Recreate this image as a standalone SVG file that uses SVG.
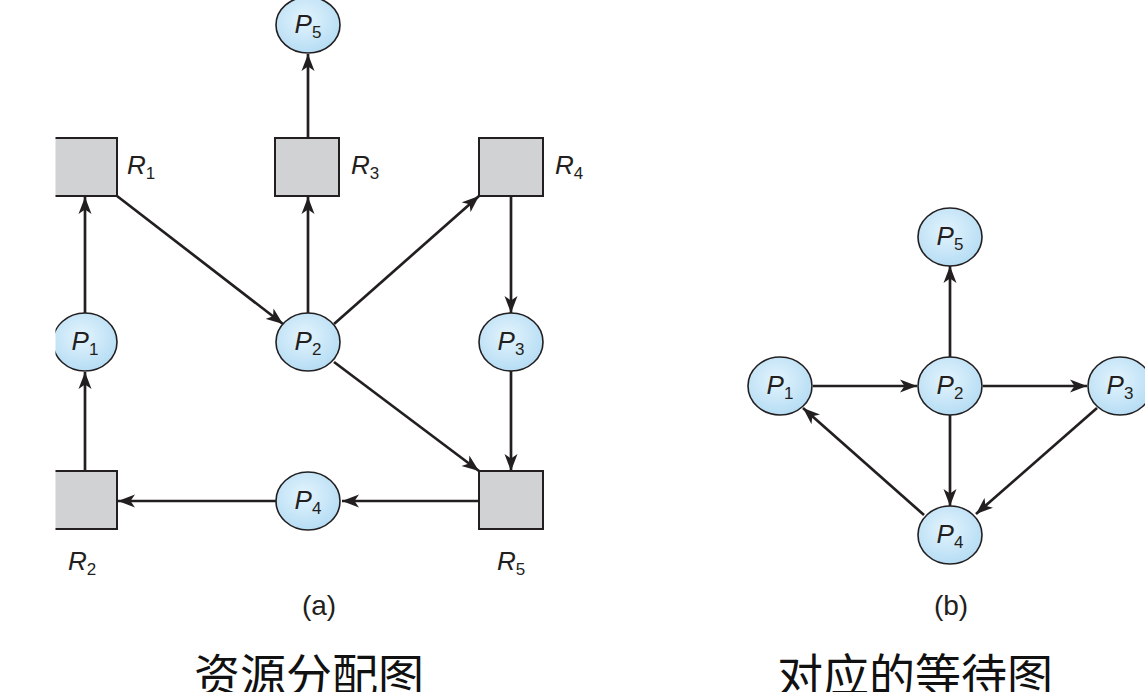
<svg xmlns="http://www.w3.org/2000/svg" width="1145" height="692" viewBox="0 0 1145 692">
<defs>
<radialGradient id="pg" cx="0.45" cy="0.4" r="0.6">
<stop offset="0" stop-color="#e4f4fd"/>
<stop offset="1" stop-color="#b6ddf4"/>
</radialGradient>
<clipPath id="crop"><rect x="55.5" y="0" width="1100" height="692"/></clipPath>
<marker id="ah" markerUnits="userSpaceOnUse" markerWidth="18" markerHeight="14" refX="17" refY="7" orient="auto">
<path d="M0,0.5 L17,7 L0,13.5 L4.5,7 z" fill="#231f20"/>
</marker>
<style>
.proc{fill:url(#pg);stroke:#231f20;stroke-width:1.6}
.res{fill:#d1d2d4;stroke:#231f20;stroke-width:2}
.e{stroke:#231f20;stroke-width:2.7;fill:none;marker-end:url(#ah)}
.lab{font-family:"Liberation Sans",Arial,sans-serif;fill:#231f20}
.it{font-style:italic;font-size:26px}
.sub{font-style:normal;font-size:17px}
.cap{font-family:"Liberation Sans",Arial,sans-serif;font-size:28px;fill:#231f20;text-anchor:middle}
.cjk{font-family:"Noto Sans CJK SC","Noto Sans",sans-serif;font-size:46px;fill:#111;text-anchor:middle}
</style>
</defs>
<rect width="1145" height="692" fill="#ffffff"/>

<g id="connectors">
<line class="e" x1="308" y1="138" x2="308" y2="54"/>
<line class="e" x1="308" y1="313" x2="308" y2="197"/>
<line class="e" x1="85" y1="313" x2="85" y2="197"/>
<line class="e" x1="85" y1="471" x2="85" y2="372"/>
<line class="e" x1="117" y1="196" x2="283" y2="324"/>
<line class="e" x1="334" y1="324" x2="479" y2="196"/>
<line class="e" x1="511" y1="196" x2="511" y2="313"/>
<line class="e" x1="511" y1="371" x2="511" y2="471"/>
<line class="e" x1="334" y1="362" x2="479" y2="471"/>
<line class="e" x1="479" y1="501" x2="342" y2="501"/>
<line class="e" x1="276" y1="501" x2="118" y2="501"/>

<line class="e" x1="813" y1="386" x2="917" y2="386"/>
<line class="e" x1="983" y1="386" x2="1087" y2="386"/>
<line class="e" x1="950" y1="357" x2="950" y2="266"/>
<line class="e" x1="950" y1="415" x2="950" y2="506"/>
<line class="e" x1="1097" y1="408" x2="976" y2="514"/>
<line class="e" x1="924" y1="515" x2="803" y2="408"/>
</g>

<g id="R1" clip-path="url(#crop)"><rect class="res" x="54" y="138" width="63" height="58"/>
<text class="lab it" x="127" y="174">R<tspan class="sub" dy="5">1</tspan></text></g>
<g id="R3"><rect class="res" x="275" y="138" width="64" height="58"/>
<text class="lab it" x="351" y="174">R<tspan class="sub" dy="5">3</tspan></text></g>
<g id="R4"><rect class="res" x="479" y="138" width="64" height="58"/>
<text class="lab it" x="555" y="174">R<tspan class="sub" dy="5">4</tspan></text></g>
<g id="R2" clip-path="url(#crop)"><rect class="res" x="54" y="471" width="63" height="58"/>
<text class="lab it" x="68" y="570">R<tspan class="sub" dy="5">2</tspan></text></g>
<g id="R5"><rect class="res" x="479" y="471" width="64" height="58"/>
<text class="lab it" x="497" y="570">R<tspan class="sub" dy="5">5</tspan></text></g>

<g id="a-P5"><ellipse class="proc" cx="308" cy="25" rx="32" ry="28"/>
<text class="lab it" x="308" y="33" text-anchor="middle">P<tspan class="sub" dy="5">5</tspan></text></g>
<g id="a-P1" clip-path="url(#crop)"><ellipse class="proc" cx="85" cy="342" rx="32" ry="29"/>
<text class="lab it" x="85" y="350" text-anchor="middle">P<tspan class="sub" dy="5">1</tspan></text></g>
<g id="a-P2"><ellipse class="proc" cx="308" cy="342" rx="32" ry="29"/>
<text class="lab it" x="308" y="350" text-anchor="middle">P<tspan class="sub" dy="5">2</tspan></text></g>
<g id="a-P3"><ellipse class="proc" cx="511" cy="342" rx="32" ry="29"/>
<text class="lab it" x="511" y="350" text-anchor="middle">P<tspan class="sub" dy="5">3</tspan></text></g>
<g id="a-P4"><ellipse class="proc" cx="308" cy="501" rx="32" ry="29"/>
<text class="lab it" x="308" y="509" text-anchor="middle">P<tspan class="sub" dy="5">4</tspan></text></g>

<g id="b-P5"><ellipse class="proc" cx="950" cy="237" rx="32" ry="29"/>
<text class="lab it" x="950" y="245" text-anchor="middle">P<tspan class="sub" dy="5">5</tspan></text></g>
<g id="b-P1"><ellipse class="proc" cx="780" cy="386" rx="32" ry="29"/>
<text class="lab it" x="780" y="394" text-anchor="middle">P<tspan class="sub" dy="5">1</tspan></text></g>
<g id="b-P2"><ellipse class="proc" cx="950" cy="386" rx="32" ry="29"/>
<text class="lab it" x="950" y="394" text-anchor="middle">P<tspan class="sub" dy="5">2</tspan></text></g>
<g id="b-P3"><ellipse class="proc" cx="1120" cy="386" rx="32" ry="29"/>
<text class="lab it" x="1120" y="394" text-anchor="middle">P<tspan class="sub" dy="5">3</tspan></text></g>
<g id="b-P4"><ellipse class="proc" cx="950" cy="535" rx="32" ry="29"/>
<text class="lab it" x="950" y="543" text-anchor="middle">P<tspan class="sub" dy="5">4</tspan></text></g>

<g id="captions">
<text class="cap" x="319" y="615">(a)</text>
<text class="cap" x="951" y="615">(b)</text>
<text class="cjk" x="309" y="692">资源分配图</text>
<text class="cjk" x="915" y="692">对应的等待图</text>
</g>
</svg>
